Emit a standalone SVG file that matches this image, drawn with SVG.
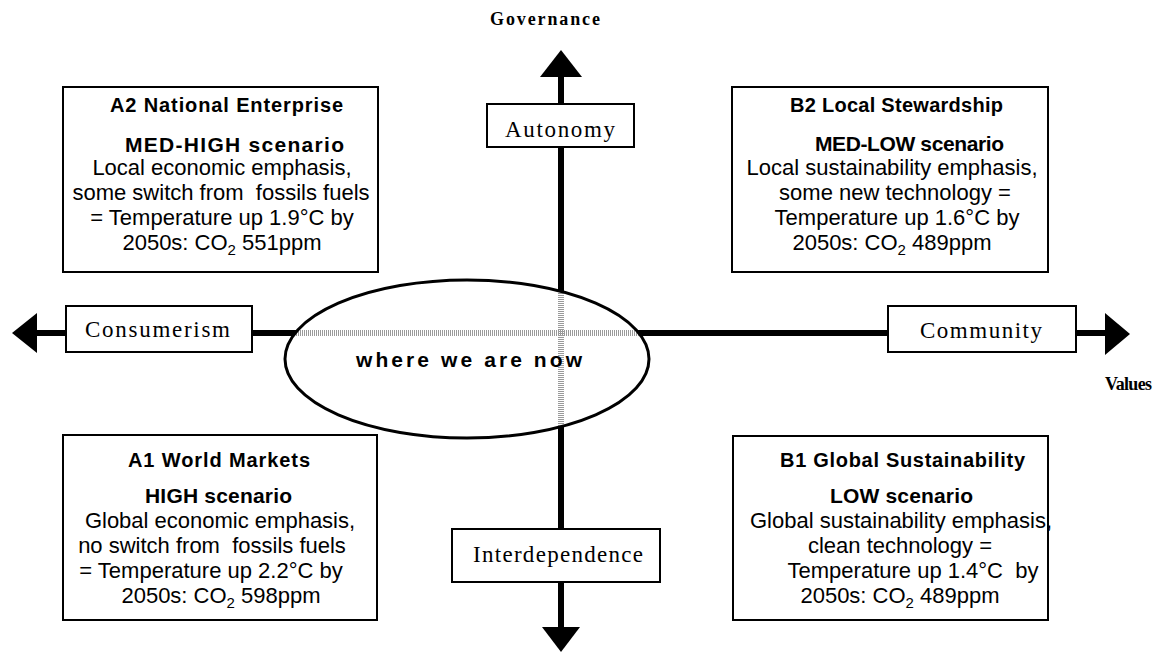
<svg xmlns="http://www.w3.org/2000/svg" width="1156" height="653" viewBox="0 0 1156 653">
<defs>
<style>
.box{fill:#fff;stroke:#000;stroke-width:2}
.lab{font-family:"Liberation Serif","Times New Roman",serif;font-size:23px;fill:#000}
.ax{font-family:"Liberation Serif","Times New Roman",serif;font-size:18px;font-weight:bold;fill:#000}
.t1{font-family:"Liberation Sans",Arial,sans-serif;font-size:20px;font-weight:bold;fill:#000}
.t2{font-family:"Liberation Sans",Arial,sans-serif;font-size:21px;font-weight:bold;fill:#000}
.bd{font-family:"Liberation Sans",Arial,sans-serif;font-size:22px;fill:#000;text-anchor:middle;white-space:pre}
.axis{stroke:#000;stroke-width:6;fill:none}
.head{fill:#000}
.dot{stroke:#9a9a9a;stroke-width:6;stroke-dasharray:1 1;fill:none}
</style>
<clipPath id="ec"><ellipse cx="467" cy="359" rx="181" ry="78"/></clipPath>
</defs>
<rect width="1156" height="653" fill="#fff"/>

<g id="connectors">
<line class="axis" x1="561" y1="75" x2="561" y2="629"/>
<line class="axis" x1="35" y1="333" x2="1107" y2="333"/>
<polygon class="head" points="540,77 582,77 561,50"/>
<polygon class="head" points="542,627 580,627 561,652"/>
<polygon class="head" points="37,313 37,353 12,333"/>
<polygon class="head" points="1105,313 1105,355 1130,334"/>
</g>

<g id="governance"><text class="ax" x="490" y="25" textLength="110" lengthAdjust="spacing">Governance</text></g>
<g id="values"><text class="ax" x="1105" y="390" textLength="47" lengthAdjust="spacing">Values</text></g>

<g id="autonomy">
<rect class="box" x="487" y="104" width="147" height="43"/>
<text class="lab" x="505" y="137" textLength="110" lengthAdjust="spacing">Autonomy</text>
</g>
<g id="consumerism">
<rect class="box" x="66" y="306" width="186" height="46"/>
<text class="lab" x="85" y="337" textLength="145" lengthAdjust="spacing">Consumerism</text>
</g>
<g id="community">
<rect class="box" x="888" y="306" width="188" height="46"/>
<text class="lab" x="920" y="338" textLength="122" lengthAdjust="spacing">Community</text>
</g>
<g id="interdependence">
<rect class="box" x="452" y="529" width="208" height="53"/>
<text class="lab" x="473" y="562" textLength="170" lengthAdjust="spacing">Interdependence</text>
</g>

<g id="now">
<ellipse cx="467" cy="359" rx="182" ry="79" fill="#fff"/>
<g clip-path="url(#ec)">
<line class="dot" x1="280" y1="333" x2="655" y2="333"/>
<line class="dot" x1="561" y1="275" x2="561" y2="445"/>
</g>
<ellipse cx="467" cy="359" rx="182" ry="79" fill="none" stroke="#000" stroke-width="3"/>
<text class="t2" x="356" y="367" font-size="24" textLength="226" lengthAdjust="spacing">where we are now</text>
</g>

<g id="a2">
<rect class="box" x="63" y="87" width="315" height="185"/>
<text class="t1" x="110" y="112" textLength="233" lengthAdjust="spacing">A2 National Enterprise</text>
<text class="t2" x="125" y="152" textLength="219" lengthAdjust="spacing">MED-HIGH scenario</text>
<text class="bd" x="222" y="175">Local economic emphasis,</text>
<text class="bd" x="221" y="200">some switch from  fossils fuels</text>
<text class="bd" x="222" y="225">= Temperature up 1.9°C by</text>
<text class="bd" x="222" y="250">2050s: CO<tspan dy="5" font-size="15">2</tspan><tspan dy="-5"> 551ppm</tspan></text>
</g>

<g id="b2">
<rect class="box" x="732" y="87" width="316" height="185"/>
<text class="t1" x="790" y="112" textLength="213" lengthAdjust="spacing">B2 Local Stewardship</text>
<text class="t2" x="815" y="151" font-size="20" textLength="189" lengthAdjust="spacing">MED-LOW scenario</text>
<text class="bd" x="892" y="175">Local sustainability emphasis,</text>
<text class="bd" x="895" y="200">some new technology =</text>
<text class="bd" x="897" y="225">Temperature up 1.6°C by</text>
<text class="bd" x="892" y="250">2050s: CO<tspan dy="5" font-size="15">2</tspan><tspan dy="-5"> 489ppm</tspan></text>
</g>

<g id="a1">
<rect class="box" x="63" y="435" width="314" height="185"/>
<text class="t1" x="128" y="467" textLength="182" lengthAdjust="spacing">A1 World Markets</text>
<text class="t2" x="145" y="503" textLength="147" lengthAdjust="spacing">HIGH scenario</text>
<text class="bd" x="220" y="528">Global economic emphasis,</text>
<text class="bd" x="212" y="553">no switch from  fossils fuels</text>
<text class="bd" x="211" y="578">= Temperature up 2.2°C by</text>
<text class="bd" x="221" y="603">2050s: CO<tspan dy="5" font-size="15">2</tspan><tspan dy="-5"> 598ppm</tspan></text>
</g>

<g id="b1">
<rect class="box" x="733" y="436" width="315" height="184"/>
<text class="t1" x="780" y="467" textLength="245" lengthAdjust="spacing">B1 Global Sustainability</text>
<text class="t2" x="830" y="503" textLength="143" lengthAdjust="spacing">LOW scenario</text>
<text class="bd" x="901" y="528">Global sustainability emphasis,</text>
<text class="bd" x="900" y="553">clean technology =</text>
<text class="bd" x="913" y="578">Temperature up 1.4°C  by</text>
<text class="bd" x="900" y="603">2050s: CO<tspan dy="5" font-size="15">2</tspan><tspan dy="-5"> 489ppm</tspan></text>
</g>
</svg>
